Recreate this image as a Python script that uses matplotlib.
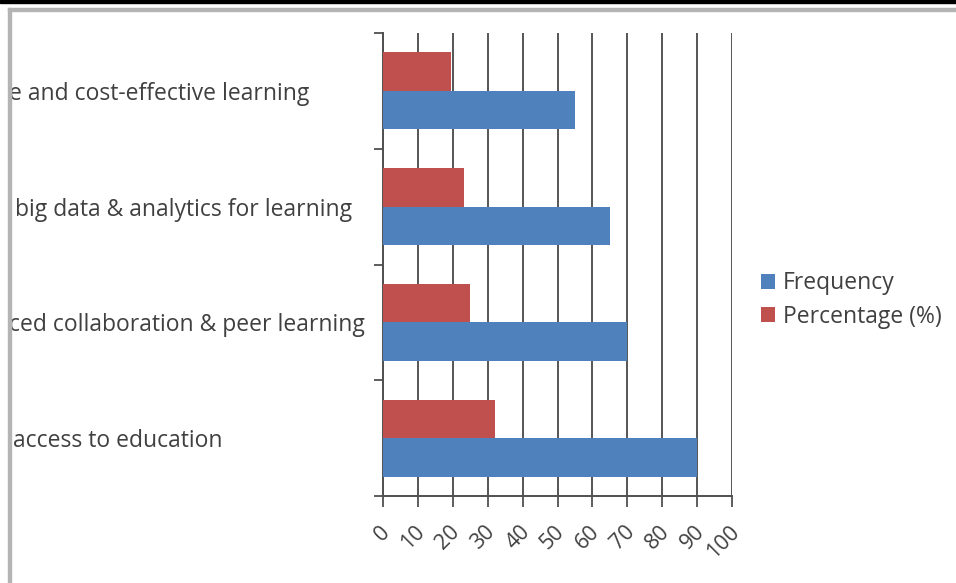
import matplotlib
matplotlib.use("Agg")
import matplotlib.pyplot as plt
from matplotlib.patches import Rectangle
import matplotlib.transforms as mtransforms
import numpy as np

# ---- data ----
categories = ["access to education",
              "ced collaboration & peer learning",
              "big data & analytics for learning",
              "e and cost-effective learning"]
frequency = [90, 70, 65, 55]
percentage = [32.1, 25.0, 23.2, 19.6]
series_names = ["Frequency", "Percentage (%)"]
xticks = [0, 10, 20, 30, 40, 50, 60, 70, 80, 90, 100]

BLUE = "#4F81BD"
RED = "#C0504D"
TXT = "#404040"
FONT = ["Open Sans", "DejaVu Sans"]

W, H = 956, 583
fig = plt.figure(figsize=(W / 100, H / 100), dpi=100)
fig.patch.set_facecolor("white")

def fx(px):
    return px / W

def fy(py):
    return 1 - py / H

ax = fig.add_axes([fx(383), fy(496), fx(732) - fx(383), fy(33) - fy(496)])
y = np.arange(len(categories))
h = 1 / 3
ax.barh(y - h / 2, frequency, height=h, color=BLUE, label=series_names[0], zorder=3)
ax.barh(y + h / 2, percentage, height=h, color=RED, label=series_names[1], zorder=3)

ax.set_xlim(0, 100)
ax.set_ylim(-0.5, len(categories) - 0.5)
ax.set_xticks(xticks)
ax.set_xticklabels([])
ax.set_yticks(np.arange(len(categories) + 1) - 0.5)
ax.set_yticklabels([])
ax.tick_params(axis="x", direction="out", length=8, width=1.3, color="#505050")
ax.tick_params(axis="y", direction="out", length=6.5, width=1.3, color="#505050")

# rotated x tick labels
xtrans = mtransforms.blended_transform_factory(ax.transData, ax.transAxes)
xshift = mtransforms.ScaledTranslation(4 / 100, -33 / 100, fig.dpi_scale_trans)
for t in xticks:
    ax.text(t, 0, str(t), transform=xtrans + xshift, rotation=45,
            rotation_mode="anchor", ha="right", va="center",
            fontsize=15.5, color=TXT, family=FONT, clip_on=False)

ax.xaxis.grid(True, color="#555555", linewidth=1.4, zorder=1)
ax.set_axisbelow(True)
for s in ["top", "right"]:
    ax.spines[s].set_visible(False)
for s in ["left", "bottom"]:
    ax.spines[s].set_color("#505050")
    ax.spines[s].set_linewidth(1.4)

# category labels (cropped text as visible in the reference)
lab_x = [13, 9, 15, 9]
trans = mtransforms.blended_transform_factory(fig.transFigure, ax.transData)
offset = mtransforms.ScaledTranslation(0, -3 / 100, fig.dpi_scale_trans)
for yi, (c, lx) in enumerate(zip(categories, lab_x)):
    fig.text(fx(lx), yi, c, transform=trans + offset, ha="left", va="center",
             fontsize=16.5, color=TXT, family=FONT)

# legend
leg = fig.legend(loc="center left", bbox_to_anchor=(fx(761), fy(300)),
                 frameon=False, prop={"family": FONT, "size": 16.5},
                 handlelength=0.6, handleheight=0.6, handletextpad=0.35,
                 labelspacing=0.4, borderaxespad=0, borderpad=0)
for t in leg.get_texts():
    t.set_color(TXT)

# frame of the cropped screenshot
fig.patches.append(Rectangle((0, fy(3)), 1, fy(0) - fy(3), transform=fig.transFigure,
                             color="black", zorder=10))
fig.patches.append(Rectangle((fx(8), fy(10.5)), 1, fy(8) - fy(10.5), transform=fig.transFigure,
                             color="#b4b4b4", zorder=10))
fig.patches.append(Rectangle((fx(8), 0), fx(10.5) - fx(8), fy(8), transform=fig.transFigure,
                             color="#b4b4b4", zorder=10))

fig.savefig("out.png", dpi=100)
